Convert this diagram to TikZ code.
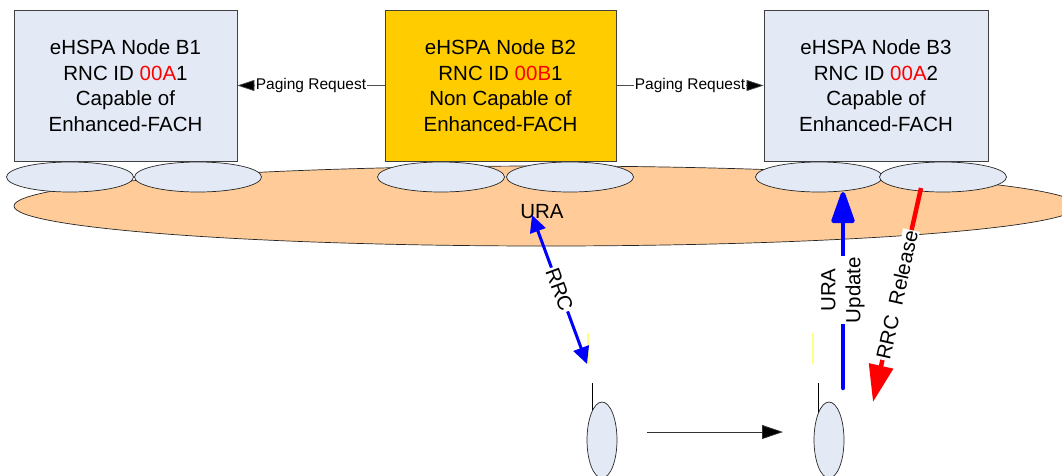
\documentclass[tikz,border=0pt]{standalone}
\usepackage{fontspec}
\setmainfont{Liberation Sans}
\usetikzlibrary{arrows.meta,shapes.geometric}
\definecolor{boxblue}{RGB}{227,234,246}
\definecolor{boxgold}{RGB}{255,204,0}
\definecolor{peach}{RGB}{255,204,153}
\definecolor{paleyellow}{RGB}{255,255,130}
\definecolor{pureblue}{RGB}{0,0,255}
\definecolor{purered}{RGB}{255,0,0}
\begin{document}
\begin{tikzpicture}[x=1pt,y=-1pt,
  bsbox/.style={draw=black!75, line width=0.8pt, minimum height=151pt, inner sep=0pt, align=center, font=\fontsize{20.5}{25.5}\selectfont},
  cell/.style={ellipse, draw=black!85, line width=0.7pt, fill=boxblue, minimum width=127pt, minimum height=30pt, inner sep=0pt},
  uecell/.style={ellipse, draw=black!85, line width=0.7pt, fill=boxblue, minimum width=30pt, minimum height=76pt, inner sep=0pt},
  paging/.style={draw=black!70, line width=0.7pt, -{Triangle[length=17pt,width=11pt,fill=black]}},
  plabel/.style={fill=white, inner sep=0.5pt, font=\fontsize{15.5}{17}\selectfont, text=black},
  biglabel/.style={font=\fontsize{20.5}{24}\selectfont, align=center},
  thickblue/.style={draw=pureblue, line width=3pt},
  hugeblue/.style={draw=pureblue, line width=4.5pt, line cap=round},
  hugered/.style={draw=purered, line width=4.5pt},
]
\useasboundingbox (0,0) rectangle (1062,475);
\clip (0,0) rectangle (1062,475);

% URA area
\node[ellipse, draw=black!85, line width=0.7pt, fill=peach, minimum width=1064pt, minimum height=80pt, inner sep=0pt] (area) at (546,206) {};
\node[biglabel] (ura) at (542,212) {URA};

% cells
\node[cell] (c1a) at (70,177) {};
\node[cell] (c1b) at (198,177) {};
\node[cell] (c2a) at (441,177) {};
\node[cell] (c2b) at (570,177) {};
\node[cell] (c3a) at (819,177) {};
\node[cell] (c3b) at (943,177) {};

% Node Bs
\node[bsbox, fill=boxblue, minimum width=223pt] (b1) at (125.5,85.5)
  {eHSPA Node B1\\RNC ID \textcolor{purered}{00A}1\\Capable of\\Enhanced-FACH};
\node[bsbox, fill=boxgold, minimum width=231pt] (b2) at (500.5,85.5)
  {eHSPA Node B2\\RNC ID \textcolor{purered}{00B}1\\Non Capable of\\Enhanced-FACH};
\node[bsbox, fill=boxblue, minimum width=224pt] (b3) at (876,85.5)
  {eHSPA Node B3\\RNC ID \textcolor{purered}{00A}2\\Capable of\\Enhanced-FACH};

% paging
\draw[paging] (b2.west) -- node[plabel] (pg1) {Paging Request} (b1.east);
\draw[paging] (b2.east) -- node[plabel] (pg2) {Paging Request} (b3.west);

% UEs
\coordinate (ant1top) at (592,383);
\coordinate (ant1bot) at (592,413);
\coordinate (ant2top) at (818,383);
\coordinate (ant2bot) at (818,413);
\draw[black, line width=0.8pt] (ant1top) -- (ant1bot);
\draw[black, line width=0.8pt] (ant2top) -- (ant2bot);
\node[uecell] (ue1) at (602,440) {};
\node[uecell] (ue2) at (829,440) {};

% move arrow
\coordinate (mv1) at (647,432);
\coordinate (mv2) at (783,432);
\draw[black!80, line width=0.8pt, -{Triangle[length=21pt,width=14pt,fill=black]}] (mv1) -- (mv2);

% pale yellow marks
\coordinate (y1a) at (588,333);
\coordinate (y1b) at (588,364);
\coordinate (y2a) at (813,333);
\coordinate (y2b) at (813,364);
\draw[paleyellow, line width=2.5pt] (y1a) -- (y1b);
\draw[paleyellow, line width=2.5pt] (y2a) -- (y2b);

% RRC double arrow
\coordinate (rrcA) at (532,215);
\coordinate (rrcB) at (587,364);
\draw[thickblue, {Triangle[length=17pt,width=16pt]}-{Triangle[length=17pt,width=16pt]}] (rrcA) -- node[midway, rotate=-69.7, fill=white, inner sep=1pt, biglabel] (rrclab) {RRC} (rrcB);

% URA Update
\coordinate (upA) at (843,388);
\coordinate (upB) at (843,192);
\draw[hugeblue, -{Triangle[length=36pt,width=24pt,round=false]}] (upA) -- node[midway, rotate=90, fill=white, inner sep=1pt, biglabel, font=\fontsize{20.5}{25}\selectfont] (uplab) {URA\\Update} (upB);

% RRC Release
\coordinate (relA) at (921,188);
\coordinate (relB) at (873,402);
\draw[hugered, -{Triangle[length=37pt,width=24pt]}] (relA) -- node[midway, rotate=77.4, fill=white, inner sep=1pt, biglabel] (rellab) {RRC\ \ Release} (relB);
\end{tikzpicture}
\end{document}
